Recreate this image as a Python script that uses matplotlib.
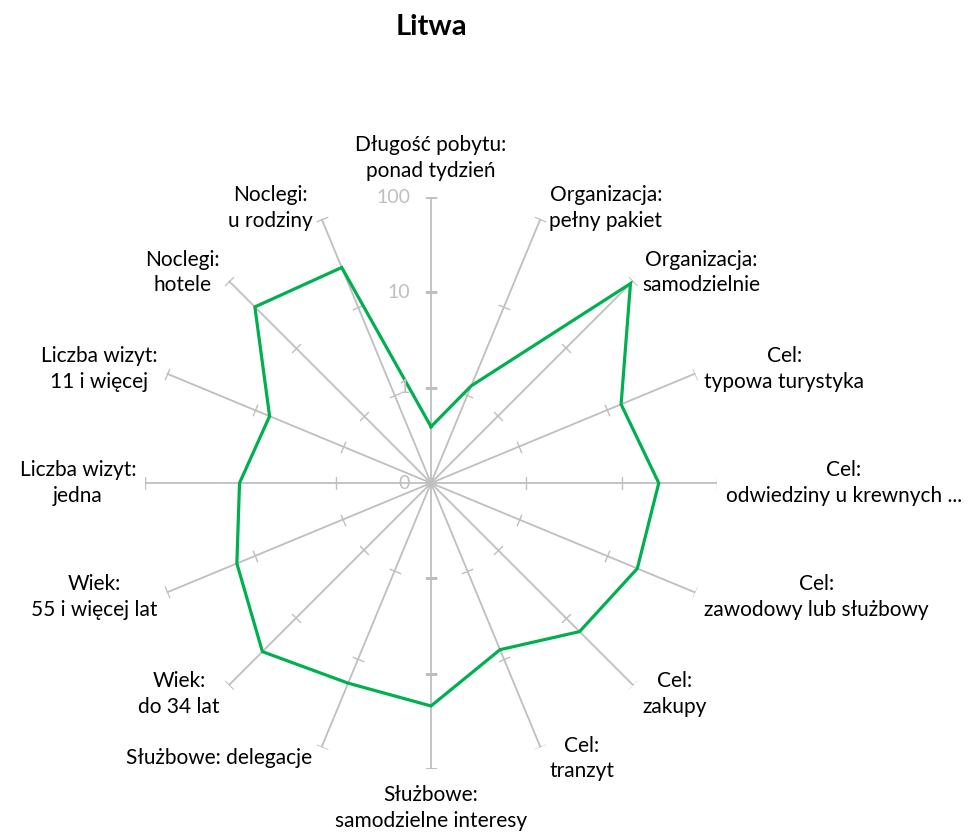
import numpy as np
import matplotlib
matplotlib.use("Agg")
import matplotlib.pyplot as plt

plt.rcParams['font.family'] = ['Lato', 'DejaVu Sans']

categories = [
    "Długość pobytu:\nponad tydzień",
    "Organizacja:\npełny pakiet",
    "Organizacja:\nsamodzielnie",
    "Cel:\ntypowa turystyka",
    "Cel:\nodwiedziny u krewnych ...",
    "Cel:\nzawodowy lub służbowy",
    "Cel:\nzakupy",
    "Cel:\ntranzyt",
    "Służbowe:\nsamodzielne interesy",
    "Służbowe: delegacje",
    "Wiek:\ndo 34 lat",
    "Wiek:\n55 i więcej lat",
    "Liczba wizyt:\njedna",
    "Liczba wizyt:\n11 i więcej",
    "Noclegi:\nhotele",
    "Noclegi:\nu rodziny",
]
values = [0.39, 1.27, 91, 14.4, 24.5, 22, 16, 7.8, 21.8, 18.7, 31.7, 16, 10.2, 6.8, 41, 28]
tick_values = [0.1, 1, 10, 100]
tick_labels = ["0", "1", "10", "100"]

GRID = "#BFBFBF"
GREEN = "#00B050"

fig = plt.figure(figsize=(9.75, 8.36), dpi=100)
ax = fig.add_axes([0.1487, 0.0801, 0.5867, 0.6842], projection="polar")
ax.set_theta_zero_location("N")
ax.set_theta_direction(-1)
ax.set_rscale("log")
ax.set_rlim(tick_values[0], tick_values[-1])
ax.grid(False)
ax.set_xticks([])
ax.set_yticks([])
ax.spines["polar"].set_visible(False)
ax.patch.set_alpha(0)

n = len(categories)
angles = np.arange(n) * 2 * np.pi / n

# spokes with tick marks
for th in angles:
    ax.plot([th, th], [tick_values[0], tick_values[-1]], color=GRID, lw=1.3, zorder=1)
    rot = 90 - np.degrees(th)
    ax.plot([th] * 3, tick_values[1:], linestyle="none", marker=(2, 0, rot),
            markersize=9, markeredgewidth=1.0, color=GRID, zorder=1)

# data polygon
th_closed = np.append(angles, angles[0])
v_closed = values + values[:1]
ax.plot(th_closed, v_closed, color=GREEN, lw=2.3, zorder=3, solid_joinstyle="miter")

# tick labels along the top spoke
for tv, tl in zip(tick_values, tick_labels):
    ax.annotate(tl, xy=(0, tv), xytext=(-21, 0), textcoords="offset pixels",
                ha="right", va="center", color=GRID, fontsize=14, annotation_clip=False)

# category labels
for th, lab in zip(angles, categories):
    s, c = np.sin(th), np.cos(th)
    if abs(s) < 0.1:
        ha = "center"
        va = "bottom" if c > 0 else "top"
        off = (0, 16 * c)
    else:
        ha = "left" if s > 0 else "right"
        va = "center"
        off = (9 * np.sign(s), 12 * c)
    ax.annotate(lab, xy=(th, tick_values[-1]), xytext=off, textcoords="offset pixels",
                ha=ha, va=va, multialignment="center", fontsize=15,
                linespacing=1.35, annotation_clip=False)

fig.text(0.442, 0.968, "Litwa", ha="center", va="center", fontsize=21, fontweight="bold")

fig.savefig("out.png", dpi=100, facecolor="white")
